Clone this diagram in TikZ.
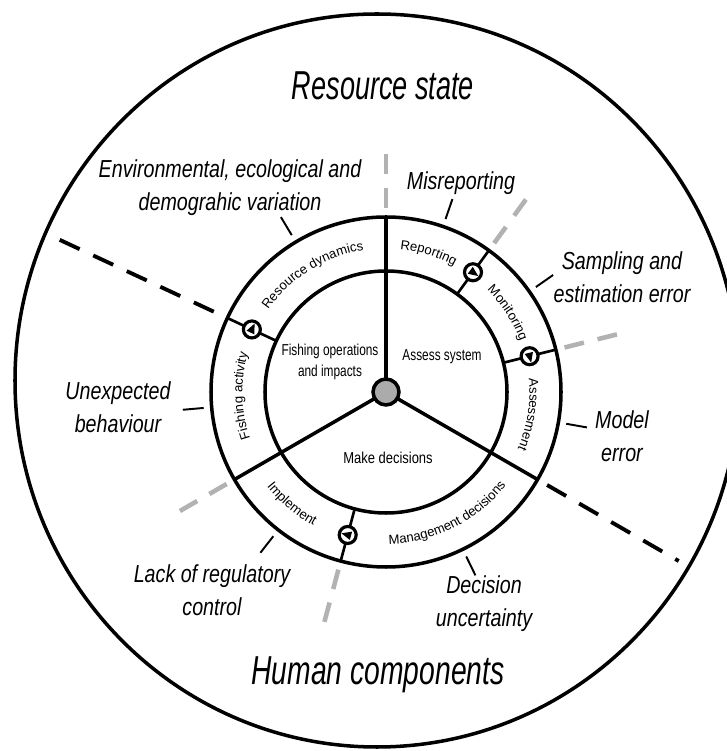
\documentclass[tikz,border=0pt]{standalone}
\usepackage{fontspec}
\setmainfont{Liberation Sans}
\usepackage{tikz}
\usetikzlibrary{calc,decorations.text}

\newcommand{\narrow}[2]{\scalebox{#1}[1]{#2}}

\begin{document}
\begin{tikzpicture}[x=0.02cm, y=0.02cm,
    ring/.style={line width=2pt},
    tickline/.style={line width=1.1pt},
    blackdash/.style={line width=2.2pt, dash pattern=on 0.44cm off 0.3cm},
    greydash/.style={line width=2.6pt, draw=black!30, dash pattern=on 0.4cm off 0.28cm},
    valve/.style={circle, draw, line width=1.8pt, fill=white, minimum size=0.34cm, inner sep=0pt},
    biglabel/.style={font=\fontsize{23}{28}\selectfont\itshape, inner sep=0pt},
    outlabel/.style={font=\fontsize{14}{18.7}\selectfont\itshape, align=center, inner sep=0pt},
    corelabel/.style={font=\fontsize{9}{12}\selectfont, align=center, inner sep=0pt}]

    \useasboundingbox (0,0) rectangle (727,751);
    \coordinate (C) at (386,359);

    \draw[ring] (377,370.5) ellipse [x radius=362, y radius=366.5];

    \foreach \a in {90,54,14,255,210}
        \draw[greydash] ($(C)+(\a:184)$) -- ($(C)+(\a:240)$);
    \draw[blackdash] ($(C)+(155:360)$) -- ($(C)+(155:175)$);
    \draw[blackdash] ($(C)+(330:186)$) -- ($(C)+(330:338)$);

    \draw[ring] (C) circle [radius=121];
    \draw[ring] (C) circle [radius=175];
    \foreach \a in {90,210,330}
        \draw[ring] (C) -- ($(C)+(\a:175)$);
    \node[circle, draw, line width=2pt, fill=black!33, minimum size=0.52cm] (hub) at (C) {};

    \foreach \a in {155,54,14,255} {
        \draw[line width=1.5pt] ($(C)+(\a:121)$) -- ($(C)+(\a:175)$);
        \node[valve] (v\a) at ($(C)+(\a:148)$) {};
        \draw[line width=0.9pt, fill=black] ($(v\a)+(\a-90:4.5)$) -- ($(v\a)+(\a+40:4)$) -- ($(v\a)+(\a-220:4)$) -- cycle;
    }

    \foreach \a in {121,71,35,350,296,232,185}
        \draw[tickline] ($(C)+(\a:183)$) -- ($(C)+(\a:204)$);

    \path[decorate, decoration={text along path, text align=center,
        text={|\fontsize{7.5}{9}\selectfont|Resource dynamics}}]
        ($(C)+(162:143.5)$) arc [start angle=162, end angle=82, radius=143.5];
    \path[decorate, decoration={text along path, text align=center,
        text={|\fontsize{7.5}{9}\selectfont|Reporting}}]
        ($(C)+(113:143.5)$) arc [start angle=113, end angle=33, radius=143.5];
    \path[decorate, decoration={text along path, text align=center,
        text={|\fontsize{7.5}{9}\selectfont|Monitoring}}]
        ($(C)+(73:143.5)$) arc [start angle=73, end angle=-7, radius=143.5];
    \path[decorate, decoration={text along path, text align=center,
        text={|\fontsize{7.5}{9}\selectfont|Assessment}}]
        ($(C)+(31:143.5)$) arc [start angle=31, end angle=-49, radius=143.5];
    \path[decorate, decoration={text along path, text align=center,
        text={|\fontsize{7.5}{9}\selectfont|Fishing activity}}]
        ($(C)+(221.5:143.5)$) arc [start angle=221.5, end angle=141.5, radius=143.5];
    \path[decorate, decoration={text along path, text align=center,
        text={|\fontsize{7.5}{9}\selectfont|Management decisions}}]
        ($(C)+(256.6:152)$) arc [start angle=256.6, end angle=336.6, radius=152];
    \path[decorate, decoration={text along path, text align=center,
        text={|\fontsize{7.5}{9}\selectfont|Implement}}]
        ($(C)+(190:152)$) arc [start angle=190, end angle=270, radius=152];

    \node[corelabel] (fishing) at (330,389.5) {\narrow{0.75}{Fishing operations}\\\narrow{0.75}{and impacts}};
    \node[corelabel] (assess) at (442,394) {\narrow{0.75}{Assess system}};
    \node[corelabel] (decide) at (388,293) {\narrow{0.82}{Make decisions}};

    \node[biglabel] (state) at (383,665) {\narrow{0.67}{Resource state}};
    \node[biglabel] (human) at (378,76) {\narrow{0.7}{Human components}};

    \node[outlabel] (env) at (230,563.5) {\narrow{0.8}{Environmental, ecological and}\\\narrow{0.8}{demograhic variation}};
    \node[outlabel] (misrep) at (461,568) {\narrow{0.8}{Misreporting}};
    \node[outlabel] (sampling) at (622,473.5) {\narrow{0.8}{Sampling and}\\\narrow{0.8}{estimation error}};
    \node[outlabel] (model) at (622,315) {\narrow{0.8}{Model}\\\narrow{0.8}{error}};
    \node[outlabel] (unexp) at (118,344) {\narrow{0.8}{Unexpected}\\\narrow{0.8}{behaviour}};
    \node[outlabel] (lack) at (212,160.5) {\narrow{0.8}{Lack of regulatory}\\\narrow{0.8}{control}};
    \node[outlabel] (decunc) at (484,147) {\narrow{0.8}{Decision}\\\narrow{0.8}{uncertainty}};
\end{tikzpicture}
\end{document}
